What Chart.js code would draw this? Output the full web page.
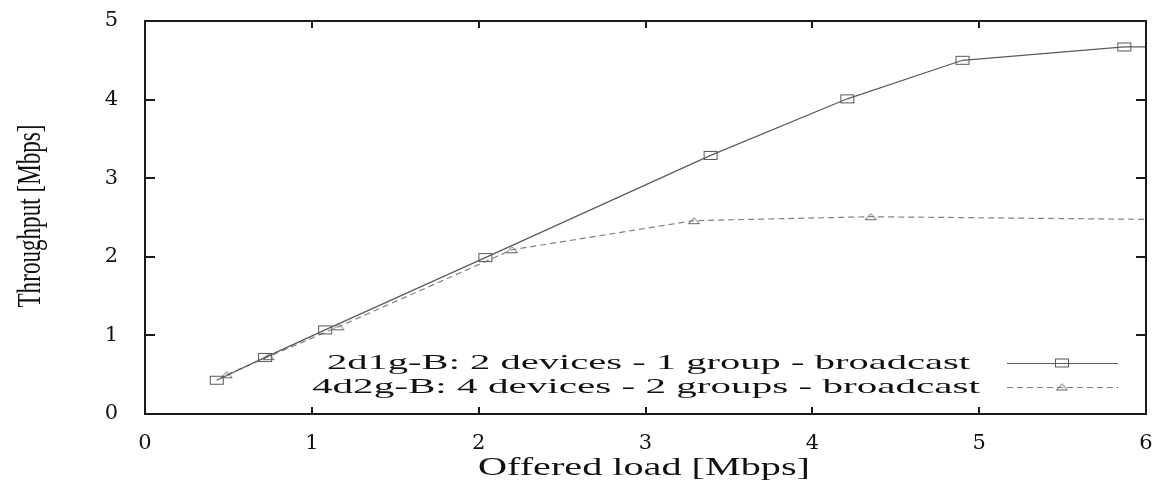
<!DOCTYPE html>
<html>
<head>
<meta charset="utf-8">
<script src="https://cdn.jsdelivr.net/npm/chart.js@4.4.1/dist/chart.umd.min.js"></script>
<style>
    html, body { margin: 0; padding: 0; background: #ffffff; }
    #wrap { width: 1162px; height: 488px; }
</style>
</head>
<body>
<div id="wrap"><canvas id="throughputChart" width="1162" height="488"></canvas></div>
<script>
// Datos (carga ofrecida vs throughput, en Mbps)
const xTicks = [0, 1, 2, 3, 4, 5, 6];
const yTicks = [0, 1, 2, 3, 4, 5];
const xTitle = 'Offered load [Mbps]';
const yTitle = 'Throughput [Mbps]';

const label2d1g = '2d1g-B: 2 devices - 1 group - broadcast';
const load2d1g = [0.43, 0.72, 1.08, 2.04, 3.39, 4.21, 4.90, 5.87, 6.80];
const throughput2d1g = [0.43, 0.72, 1.07, 1.99, 3.29, 4.01, 4.50, 4.67, 4.68];

const label4d2g = '4d2g-B: 4 devices - 2 groups - broadcast';
const load4d2g = [0.49, 0.74, 1.16, 2.20, 3.29, 4.35, 6.80];
const throughput4d2g = [0.50, 0.73, 1.11, 2.09, 2.46, 2.51, 2.46];

const FONT = '"Liberation Serif", "Times New Roman", serif';
const TICK_FONT = '"DejaVu Serif", serif';
let throughputChart = null;

window.addEventListener('load', () => {
    printThroughput();
});

/**
 * Une dos listas en puntos {x, y} para Chart.js
 */
function toPoints(xs, ys){
    return xs.map((x, i) => ({ x: x, y: ys[i] }));
}

/**
 * Marcador de cuadrado vacio (algo mas ancho que alto, como en la figura)
 */
function makeSquare(w, h, color){
    const c = document.createElement('canvas');
    c.width = w + 2;
    c.height = h + 2;
    const g = c.getContext('2d');
    g.strokeStyle = color;
    g.lineWidth = 1;
    g.strokeRect(1.5, 1.5, w - 1, h - 1);
    return c;
}

/**
 * Marcador de triangulo vacio
 */
function makeTriangle(w, h, color){
    const c = document.createElement('canvas');
    c.width = w + 2;
    c.height = h + 2;
    const g = c.getContext('2d');
    g.strokeStyle = color;
    g.lineWidth = 1;
    g.beginPath();
    g.moveTo(1.5, h + 0.5);
    g.lineTo(w / 2 + 1, 1.5);
    g.lineTo(w + 0.5, h + 0.5);
    g.closePath();
    g.stroke();
    return c;
}

/**
 * Texto estirado (o encogido) hasta ocupar un largo dado
 */
function stretchedText(ctx, text, x, y, width, angle, align){
    const w = ctx.measureText(text).width;
    ctx.save();
    ctx.translate(x, y);
    ctx.rotate(angle);
    ctx.scale(width / w, 1);
    ctx.textAlign = align;
    ctx.textBaseline = 'middle';
    ctx.fillText(text, 0, 0);
    ctx.restore();
}

// Marco, ticks hacia dentro, titulos de ejes y leyenda al estilo gnuplot
const gnuplotFrame = {
    id: 'gnuplotFrame',
    afterDraw(chart){
        const ctx = chart.ctx;
        const area = chart.chartArea;
        const sx = chart.scales.x;
        const sy = chart.scales.y;

        ctx.save();
        ctx.strokeStyle = '#1a1a1a';
        ctx.lineWidth = 2;
        ctx.strokeRect(area.left, area.top, area.right - area.left, area.bottom - area.top);

        ctx.beginPath();
        xTicks.forEach(v => {
            const px = Math.round(sx.getPixelForValue(v));
            ctx.moveTo(px, area.bottom); ctx.lineTo(px, area.bottom - 7);
            ctx.moveTo(px, area.top); ctx.lineTo(px, area.top + 7);
        });
        yTicks.forEach(v => {
            const py = Math.round(sy.getPixelForValue(v));
            ctx.moveTo(area.left, py); ctx.lineTo(area.left + 10, py);
            ctx.moveTo(area.right, py); ctx.lineTo(area.right - 10, py);
        });
        ctx.stroke();

        ctx.fillStyle = '#111111';
        ctx.font = '26px ' + FONT;
        stretchedText(ctx, xTitle, 644, 468, 332, 0, 'center');
        ctx.font = '34px ' + FONT;
        stretchedText(ctx, yTitle, 31, 216, 183, -Math.PI / 2, 'center');

        // leyenda: [izquierda del texto, derecha del texto, y]
        const rows = [[327, 970, 363], [312, 980, 387]];
        ctx.font = '22px ' + FONT;
        chart.data.datasets.forEach((ds, i) => {
            const r = rows[i];
            ctx.fillStyle = '#111111';
            stretchedText(ctx, ds.label, r[0], r[2], r[1] - r[0], 0, 'left');

            ctx.save();
            ctx.strokeStyle = ds.borderColor;
            ctx.lineWidth = ds.borderWidth;
            ctx.setLineDash(ds.borderDash || []);
            ctx.beginPath();
            ctx.moveTo(1007, r[2] + 0.5);
            ctx.lineTo(1118, r[2] + 0.5);
            ctx.stroke();
            ctx.restore();
            const img = ds.pointStyle;
            ctx.drawImage(img, 1062 - img.width / 2, r[2] - img.height / 2);
        });
        ctx.restore();
    }
};

/**
 * Crea la grafica de throughput frente a carga ofrecida
 */
function printThroughput(){
    const ctx = document.getElementById('throughputChart').getContext('2d');
    throughputChart = new Chart(ctx, {
        type: 'scatter',
        data: {
            datasets: [{
                label: label2d1g,
                data: toPoints(load2d1g, throughput2d1g),
                showLine: true,
                borderColor: '#5a5a5a',
                borderWidth: 1.2,
                pointStyle: makeSquare(14, 9, '#555555'),
                pointRadius: 6
            }, {
                label: label4d2g,
                data: toPoints(load4d2g, throughput4d2g),
                showLine: true,
                borderColor: '#808080',
                borderWidth: 1.2,
                borderDash: [6, 4],
                pointStyle: makeTriangle(12, 7, '#666666'),
                pointRadius: 6
            }]
        },
        options: {
            responsive: false,
            animation: false,
            devicePixelRatio: 1,
            layout: { padding: { top: 21, right: 16, left: 0, bottom: 0 } },
            plugins: {
                legend: { display: false },
                tooltip: { enabled: false }
            },
            scales: {
                x: {
                    type: 'linear',
                    min: 0,
                    max: 6,
                    afterBuildTicks: (scale) => { scale.ticks = xTicks.map(v => ({ value: v })); },
                    afterFit: (scale) => {
                        scale.height = 74;
                        scale.paddingLeft = 0;
                        scale.paddingRight = 0;
                    },
                    grid: { display: false, drawTicks: false },
                    border: { display: false },
                    ticks: { color: '#111111', padding: 17, font: { family: TICK_FONT, size: 21 } }
                },
                y: {
                    type: 'linear',
                    min: 0,
                    max: 5,
                    afterBuildTicks: (scale) => { scale.ticks = yTicks.map(v => ({ value: v })); },
                    afterFit: (scale) => {
                        scale.width = 145;
                        scale.paddingTop = 0;
                        scale.paddingBottom = 0;
                    },
                    grid: { display: false, drawTicks: false },
                    border: { display: false },
                    ticks: { color: '#111111', padding: 27, font: { family: TICK_FONT, size: 21 } }
                }
            }
        },
        plugins: [gnuplotFrame]
    });
}
</script>
</body>
</html>
